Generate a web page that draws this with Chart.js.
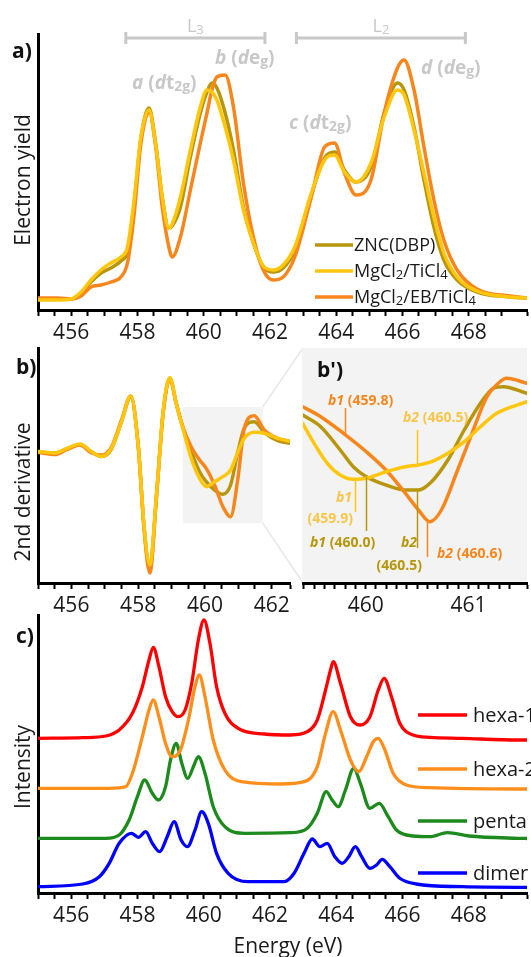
<!DOCTYPE html>
<html>
<head>
<meta charset="utf-8">
<script src="https://cdn.jsdelivr.net/npm/chart.js@4.4.0/dist/chart.umd.min.js"></script>
<style>
  body { margin: 0; background: #fff; width: 531px; height: 957px; overflow: hidden; position: relative; }
  canvas { position: absolute; left: 0; top: 0; }
</style>
</head>
<body>
<canvas id="chartA" width="531" height="957"></canvas>
<canvas id="chartB" width="531" height="957"></canvas>
<canvas id="chartBZ" width="531" height="957"></canvas>
<canvas id="chartC" width="531" height="957"></canvas>
<script>
// ---- panel a: electron yield ----
const ENERGY_A = [455.0, 455.6, 456.0, 456.3, 456.6, 456.9, 457.2, 457.5, 457.7, 457.9, 458.1, 458.35, 458.55, 458.75, 458.95, 459.05, 459.3, 459.6, 459.9, 460.1, 460.25, 460.4, 460.65, 460.9, 461.2, 461.5, 461.8, 462.1, 462.4, 462.75, 463.25, 463.65, 463.95, 464.25, 464.6, 465.05, 465.45, 465.85, 466.05, 466.35, 466.65, 466.95, 467.25, 467.65, 468.25, 469.25, 469.8];
const ZNC_A  = [11, 11, 11, 17, 28, 37, 42, 49, 59, 105, 170, 202, 167, 113, 82, 84, 103, 153, 197, 218, 227, 222, 197, 160, 103, 67, 43, 38, 42, 60, 115, 152, 158, 140, 128, 143, 197, 227, 220, 183, 130, 83, 50, 30, 18, 13, 12];
const MGTI_A = [10, 10, 11, 18, 30, 40, 47, 53, 63, 110, 172, 200, 166, 113, 82, 86, 113, 160, 203, 220, 218, 210, 183, 150, 100, 67, 44, 40, 45, 63, 117, 150, 155, 138, 128, 147, 193, 220, 215, 180, 137, 93, 57, 33, 19, 13, 12];
const MGEB_A = [12, 12, 11, 14, 23, 25, 28, 33, 47, 95, 165, 198, 164, 103, 63, 53, 73, 120, 167, 197, 220, 233, 235, 203, 127, 73, 40, 30, 33, 53, 113, 163, 167, 137, 115, 130, 197, 242, 250, 220, 163, 110, 70, 40, 21, 14, 12];

// ---- panel b: 2nd derivative ----
const ENERGY_B = [455.02, 455.5, 455.9, 456.26, 456.6, 456.9, 457.2, 457.5, 457.78, 458.0, 458.18, 458.35, 458.55, 458.75, 458.95, 459.14, 459.34, 459.59, 459.84, 460.04, 460.29, 460.54, 460.77, 460.99, 461.18, 461.48, 461.78, 462.18, 462.6];
const ZNC_B  = [0, -1, 3.5, 7.5, 0, -4.5, 3, 30, 55, 7, -76, -117, -43, 40, 73.7, 48.7, 24.5, 0.3, -19.7, -29.7, -38, -42.3, -33, 0.3, 23.7, 30.3, 19.7, 11.3, 8.7];
const MGTI_B = [0.5, -1, 4, 8, 0.5, -4.5, 3.7, 30, 56, 7, -75, -113, -43, 41, 74.5, 48.7, 23.7, -6.3, -26.3, -34.7, -29.7, -24.7, -18, 0.3, 13.7, 19.7, 18.7, 13.7, 10.3];
const MGEB_B = [-0.5, -2.5, 3, 7, -1, -3, 5, 32, 56, 8, -78, -121, -45, 39, 73, 49, 25, 5.3, -8, -16.3, -33, -54.7, -64.7, -26.3, 23.7, 36.3, 22, 13.7, 10.3];

// ---- panel b': zoom on the b band ----
const ENERGY_BZ_ZNC  = [459.387, 459.562, 459.752, 459.879, 460.006, 460.197, 460.387, 460.514, 460.641, 460.8, 460.959, 461.117, 461.244, 461.34, 461.57];
const ZNC_BZ         = [168, 156.3, 133, 116.3, 106.3, 98, 93, 93, 101.3, 123, 153, 179.7, 194.7, 196.3, 189.7];
const ENERGY_BZ_MGTI = [459.387, 459.498, 459.626, 459.752, 459.879, 460.006, 460.197, 460.387, 460.514, 460.641, 460.8, 460.959, 461.117, 461.276, 461.57];
const MGTI_BZ        = [159.7, 139.7, 119.7, 108, 103.7, 104.7, 111.3, 116.3, 118, 121.3, 129.7, 141.3, 156.3, 169.7, 181.3];
const ENERGY_BZ_MGEB = [459.387, 459.562, 459.784, 460.006, 460.197, 460.387, 460.514, 460.625, 460.737, 460.895, 461.022, 461.181, 461.308, 461.371, 461.57];
const MGEB_BZ        = [176.3, 166.3, 149.7, 131.3, 113, 89.7, 73, 61.3, 73, 113, 146.3, 186.3, 201.3, 204.7, 199.7];
const PEAKS_BZ = [459.8, 460.5, 459.9, 460.0, 460.5, 460.6];

// ---- panel c: calculated spectra ----
const E_HEXA1 = [455.01, 456.35, 457.05, 457.45, 457.85, 458.15, 458.35, 458.48, 458.65, 458.85, 459.05, 459.23, 459.44, 459.64, 459.84, 460.01, 460.19, 460.39, 460.64, 461.04, 461.83, 462.63, 463.13, 463.43, 463.68, 463.83, 463.91, 464.13, 464.43, 464.72, 465.02, 465.27, 465.45, 465.67, 465.92, 466.32, 466.82, 467.81, 469.49, 469.8];
const HEXA1   = [154.7, 155.3, 157, 163, 179.7, 206.3, 233, 245.7, 226.3, 196.3, 181.3, 176.3, 183, 209.7, 253, 273, 249.7, 206.3, 179.7, 164.7, 159, 158, 161.3, 173, 203, 223, 231.3, 209.7, 176.3, 168, 176.3, 203, 214.7, 196.3, 169.7, 158, 155.7, 154.7, 153, 153];
const E_HEXA2 = [455.01, 457.15, 457.65, 457.85, 458.15, 458.35, 458.48, 458.65, 458.85, 459.05, 459.3, 459.54, 459.74, 459.87, 460.04, 460.29, 460.64, 461.14, 462.33, 463.03, 463.43, 463.68, 463.91, 464.13, 464.43, 464.68, 464.92, 465.12, 465.27, 465.47, 465.72, 466.12, 466.82, 469.49, 469.8];
const HEXA2   = [104.7, 104.7, 106.3, 119.7, 156.3, 183, 193, 176.3, 149.7, 136.3, 143, 173, 206.3, 218, 196.3, 153, 123, 111.3, 109, 111.3, 126.3, 159.7, 181.3, 163, 133, 121.3, 136.3, 151.3, 154.7, 143, 119.7, 108, 105.3, 104, 104];
const E_PENTA = [455.01, 457.05, 457.45, 457.75, 458.0, 458.22, 458.45, 458.63, 458.85, 459.0, 459.17, 459.34, 459.52, 459.69, 459.84, 460.04, 460.29, 460.64, 461.24, 462.63, 463.13, 463.43, 463.7, 463.88, 464.06, 464.28, 464.53, 464.73, 465.02, 465.3, 465.57, 465.82, 466.32, 466.82, 467.36, 468.01, 469.49, 469.8];
const PENTA   = [54.7, 54.7, 58, 73, 96.3, 113, 99.7, 93, 106.3, 133, 149.7, 129.7, 114.7, 126.3, 136.3, 119.7, 86.3, 66.3, 59.7, 60.3, 64.7, 79.7, 101.3, 93, 86.3, 103, 124.7, 109.7, 84.7, 89.7, 76.3, 63, 57, 56.3, 60.3, 57, 54.7, 54.5];
const E_DIMER = [455.01, 456.35, 456.85, 457.15, 457.45, 457.82, 458.03, 458.25, 458.45, 458.67, 458.9, 459.11, 459.32, 459.51, 459.74, 459.94, 460.14, 460.39, 460.74, 461.34, 462.43, 462.73, 463.03, 463.28, 463.51, 463.73, 463.96, 464.18, 464.38, 464.58, 464.77, 465.02, 465.22, 465.39, 465.62, 465.92, 466.42, 467.81, 469.49, 469.8];
const DIMER   = [6.3, 9, 16.3, 29.7, 49.7, 59.7, 55.7, 61.3, 49.7, 41.3, 56.3, 71.3, 53, 46.3, 63, 81.3, 69.7, 39.7, 19.7, 11.3, 11.3, 19.7, 39.7, 54, 46.3, 49.7, 36.3, 29.7, 36.3, 46.3, 36.3, 24.7, 28, 33.7, 26.3, 14.7, 9, 6.3, 5.7, 5.7];

const SAMPLE_LABELS = ['ZNC(DBP)', 'MgCl_2/TiCl_4', 'MgCl_2/EB/TiCl_4'];
const CALC_LABELS = ['hexa-1', 'hexa-2', 'penta', 'dimer'];

const OLIVE = '#b8960c', YELLOW = '#ffc60f', ORANGE = '#f7861c';
const FONT = "'Open Sans', sans-serif";
const GREY_TXT = '#c8c8c8';
const PAGE_W = 531, PAGE_H = 957, X_AXIS_H = 40;

function pts(xs, ys) { return xs.map((x, i) => ({ x, y: ys[i] })); }

function parseRich(str) {
  const runs = [];
  let italic = false;
  for (let i = 0; i < str.length; i++) {
    let ch = str[i];
    if (ch === '*') { italic = !italic; continue; }
    let sub = false;
    if (ch === '_') { sub = true; ch = str[++i]; }
    const last = runs[runs.length - 1];
    if (last && last.italic === italic && last.sub === sub) last.t += ch;
    else runs.push({ t: ch, italic, sub });
  }
  return runs;
}

// o: size, weight, color, align; y is the visual middle of the capitals
function drawRich(ctx, str, x, y, o) {
  const runs = parseRich(str);
  const fontOf = r => `${r.italic ? 'italic ' : ''}${o.weight || 'normal'} ${r.sub ? Math.round(o.size * 0.72) : o.size}px ${FONT}`;
  let w = 0;
  runs.forEach(r => { ctx.font = fontOf(r); r.w = ctx.measureText(r.t).width; w += r.w; });
  let cx = o.align === 'center' ? x - w / 2 : o.align === 'right' ? x - w : x;
  const base = y + o.size * 0.36;
  ctx.save();
  ctx.fillStyle = o.color || '#1a1a1a';
  ctx.textAlign = 'left';
  ctx.textBaseline = 'alphabetic';
  runs.forEach(r => {
    ctx.font = fontOf(r);
    ctx.fillText(r.t, cx, base + (r.sub ? o.size * 0.1 : 0));
    cx += r.w;
  });
  ctx.restore();
}

function drawVertical(ctx, str, x, y, size) {
  ctx.save();
  ctx.translate(x, y);
  ctx.rotate(-Math.PI / 2);
  drawRich(ctx, str, 0, 0, { size, color: '#1a1a1a', align: 'center' });
  ctx.restore();
}

function lineSet(label, data, color, order, width) {
  return {
    label, data, borderColor: color, backgroundColor: color, order,
    borderWidth: width || 3.5, pointRadius: 0, fill: false,
    cubicInterpolationMode: 'monotone', borderJoinStyle: 'round', borderCapStyle: 'round'
  };
}

function makeChart(id, area, xr, yr, datasets, plugin, opts) {
  opts = opts || {};
  return new Chart(document.getElementById(id), {
    type: 'line',
    data: { datasets },
    options: {
      responsive: false,
      animation: false,
      layout: { padding: { left: area.left, right: PAGE_W - area.right, top: area.top, bottom: PAGE_H - area.bottom - X_AXIS_H } },
      plugins: { legend: { display: false }, tooltip: { enabled: false } },
      scales: {
        x: {
          type: 'linear', min: xr[0], max: xr[1],
          afterFit: s => { s.height = X_AXIS_H; },
          ticks: {
            stepSize: opts.step || 0.5, autoSkip: false, maxRotation: 0, padding: 4,
            color: '#1a1a1a', font: { family: FONT, size: 21 },
            callback: v => {
              const r = Math.round(v);
              if (Math.abs(v - r) > 1e-6) return '';
              return (opts.every || 2) === 1 || r % 2 === 0 ? String(r) : '';
            }
          },
          grid: { drawOnChartArea: false, drawTicks: true, tickLength: 6, tickWidth: 2, tickColor: '#000' },
          border: { display: true, color: '#000', width: 3 }
        },
        y: {
          min: yr[0], max: yr[1],
          afterFit: s => { s.width = 0; },
          ticks: { display: false },
          grid: { display: false },
          border: { display: opts.yBorder !== false, color: '#000', width: 3 }
        }
      }
    },
    plugins: [plugin]
  });
}

const AREA_A = { left: 38, right: 531, top: 34, bottom: 310 };
const AREA_B = { left: 38, right: 290, top: 348, bottom: 583 };
const AREA_BZ = { left: 303, right: 531, top: 348, bottom: 583 };
const AREA_C = { left: 38, right: 531, top: 615, bottom: 893 };

const L_BANDS = [['L_3', 457.65, 461.85], ['L_2', 462.8, 467.9]];

// ---- a ----
makeChart('chartA', AREA_A, [455, 469.76], [0, 276], [
  lineSet(SAMPLE_LABELS[0], pts(ENERGY_A, ZNC_A), OLIVE, 2),
  lineSet(SAMPLE_LABELS[1], pts(ENERGY_A, MGTI_A), YELLOW, 0),
  lineSet(SAMPLE_LABELS[2], pts(ENERGY_A, MGEB_A), ORANGE, 1)
], {
  id: 'decorA',
  afterDraw(chart) {
    const ctx = chart.ctx, xs = chart.scales.x;
    drawRich(ctx, 'a)', 12, 50, { size: 21, weight: 'bold', color: '#111' });
    drawVertical(ctx, 'Electron yield', 22, 180, 21);
    ctx.save();
    ctx.strokeStyle = GREY_TXT; ctx.lineWidth = 3;
    L_BANDS.forEach(([name, e0, e1]) => {
      const x0 = xs.getPixelForValue(e0), x1 = xs.getPixelForValue(e1);
      ctx.beginPath();
      ctx.moveTo(x0, 38); ctx.lineTo(x1, 38);
      ctx.moveTo(x0, 32); ctx.lineTo(x0, 44);
      ctx.moveTo(x1, 32); ctx.lineTo(x1, 44);
      ctx.stroke();
      drawRich(ctx, name, (x0 + x1) / 2, 26, { size: 18, color: GREY_TXT, align: 'center' });
    });
    ctx.restore();
    const gl = { size: 19, weight: 'bold', color: GREY_TXT };
    drawRich(ctx, '*a* (*d*t_2_g)', 132, 82, gl);
    drawRich(ctx, '*b* (*d*e_g)', 215, 57, gl);
    drawRich(ctx, '*c* (*d*t_2_g)', 289, 122, gl);
    drawRich(ctx, '*d* (*d*e_g)', 421, 67, gl);
    // legend
    const rows = [245, 271, 297];
    chart.data.datasets.forEach((ds, i) => {
      ctx.save();
      ctx.strokeStyle = ds.borderColor; ctx.lineWidth = 3.5;
      ctx.beginPath(); ctx.moveTo(315, rows[i]); ctx.lineTo(353, rows[i]); ctx.stroke();
      ctx.restore();
      drawRich(ctx, ds.label, 354, rows[i], { size: 18, color: '#1a1a1a' });
    });
  }
});

// ---- b ----
const ZOOM_BOX_Y = [-71, 45];
makeChart('chartB', AREA_B, [455, 462.55], [-131, 104], [
  lineSet(SAMPLE_LABELS[0], pts(ENERGY_B, ZNC_B), OLIVE, 2),
  lineSet(SAMPLE_LABELS[1], pts(ENERGY_B, MGTI_B), YELLOW, 0),
  lineSet(SAMPLE_LABELS[2], pts(ENERGY_B, MGEB_B), ORANGE, 1)
], {
  id: 'decorB',
  beforeDatasetsDraw(chart) {
    const ctx = chart.ctx, xs = chart.scales.x, ys = chart.scales.y;
    const x0 = xs.getPixelForValue(459.34), x1 = xs.getPixelForValue(461.73);
    const y0 = ys.getPixelForValue(ZOOM_BOX_Y[1]), y1 = ys.getPixelForValue(ZOOM_BOX_Y[0]);
    ctx.save();
    ctx.fillStyle = '#f3f3f3';
    ctx.fillRect(x0, y0, x1 - x0, y1 - y0);
    ctx.strokeStyle = '#e8e8e8'; ctx.lineWidth = 1.5;
    ctx.beginPath();
    ctx.moveTo(x1, y0); ctx.lineTo(AREA_BZ.left, AREA_BZ.top);
    ctx.moveTo(x1, y1); ctx.lineTo(AREA_BZ.left, AREA_BZ.bottom);
    ctx.stroke();
    ctx.restore();
  },
  afterDraw(chart) {
    const ctx = chart.ctx;
    drawRich(ctx, 'b)', 16, 366, { size: 21, weight: 'bold', color: '#111' });
    drawVertical(ctx, '2nd derivative', 22, 492, 21);
  }
});

// ---- b' ----
const BZ_MARKS = [
  { c: ORANGE, y: [148, 175] },
  { c: YELLOW, y: [118, 153] },
  { c: YELLOW, y: [71, 103] },
  { c: OLIVE,  y: [52, 106] },
  { c: OLIVE,  y: [35, 93] },
  { c: ORANGE, y: [26, 61] }
];
makeChart('chartBZ', AREA_BZ, [459.39, 461.57], [0, 235], [
  lineSet(SAMPLE_LABELS[0], pts(ENERGY_BZ_ZNC, ZNC_BZ), OLIVE, 2),
  lineSet(SAMPLE_LABELS[1], pts(ENERGY_BZ_MGTI, MGTI_BZ), YELLOW, 0),
  lineSet(SAMPLE_LABELS[2], pts(ENERGY_BZ_MGEB, MGEB_BZ), ORANGE, 1)
], {
  id: 'decorBZ',
  beforeDraw(chart) {
    const ctx = chart.ctx, a = chart.chartArea;
    ctx.save();
    ctx.fillStyle = '#f3f3f3';
    ctx.fillRect(a.left - 1, a.top, a.right - a.left + 1, a.bottom - a.top);
    ctx.restore();
  },
  afterDatasetsDraw(chart) {
    const ctx = chart.ctx, xs = chart.scales.x, ys = chart.scales.y;
    ctx.save();
    ctx.lineWidth = 1.5;
    PEAKS_BZ.forEach((e, i) => {
      const m = BZ_MARKS[i], x = Math.round(xs.getPixelForValue(e)) + 0.5;
      ctx.strokeStyle = m.c;
      ctx.beginPath();
      ctx.moveTo(x, ys.getPixelForValue(m.y[0]));
      ctx.lineTo(x, ys.getPixelForValue(m.y[1]));
      ctx.stroke();
    });
    ctx.restore();
    const f = c => ({ size: 14, weight: 'bold', color: c });
    const fr = c => ({ size: 14, weight: 'bold', color: c, align: 'right' });
    drawRich(ctx, '*b1* (459.8)', 328, 400, f(ORANGE));
    drawRich(ctx, '*b2* (460.5)', 403, 417, f('#f8c64a'));
    drawRich(ctx, '*b1*', 352, 497, fr('#f8c64a'));
    drawRich(ctx, '(459.9)', 353, 518, fr('#f8c64a'));
    drawRich(ctx, '*b1* (460.0)', 310, 542, f(OLIVE));
    drawRich(ctx, '*b2*', 417, 542, fr(OLIVE));
    drawRich(ctx, '(460.5)', 422, 565, fr(OLIVE));
    drawRich(ctx, '*b2* (460.6)', 437, 553, f(ORANGE));
  },
  afterDraw(chart) {
    drawRich(chart.ctx, "b')", 317, 369, { size: 21, weight: 'bold', color: '#111' });
  }
}, { step: 0.1, every: 1, yBorder: false });

// ---- c ----
makeChart('chartC', AREA_C, [455, 469.76], [0, 278], [
  lineSet(CALC_LABELS[0], pts(E_HEXA1, HEXA1), '#ff0000', 0, 3.3),
  lineSet(CALC_LABELS[1], pts(E_HEXA2, HEXA2), '#ff8f1c', 1, 3.3),
  lineSet(CALC_LABELS[2], pts(E_PENTA, PENTA), '#1c8a1c', 2, 3.3),
  lineSet(CALC_LABELS[3], pts(E_DIMER, DIMER), '#0000ff', 3, 3.3)
], {
  id: 'decorC',
  afterDraw(chart) {
    const ctx = chart.ctx;
    drawRich(ctx, 'c)', 16, 635, { size: 21, weight: 'bold', color: '#111' });
    drawVertical(ctx, 'Intensity', 22, 767, 21);
    drawRich(ctx, 'Energy (eV)', 288, 945, { size: 21, color: '#1a1a1a', align: 'center' });
    const rows = [715, 769, 821, 873];
    chart.data.datasets.forEach((ds, i) => {
      ctx.save();
      ctx.strokeStyle = ds.borderColor; ctx.lineWidth = 3.5;
      ctx.beginPath(); ctx.moveTo(418, rows[i]); ctx.lineTo(467, rows[i]); ctx.stroke();
      ctx.restore();
      drawRich(ctx, ds.label, 473, rows[i], { size: 20, color: '#1a1a1a' });
    });
  }
});
</script>
</body>
</html>
